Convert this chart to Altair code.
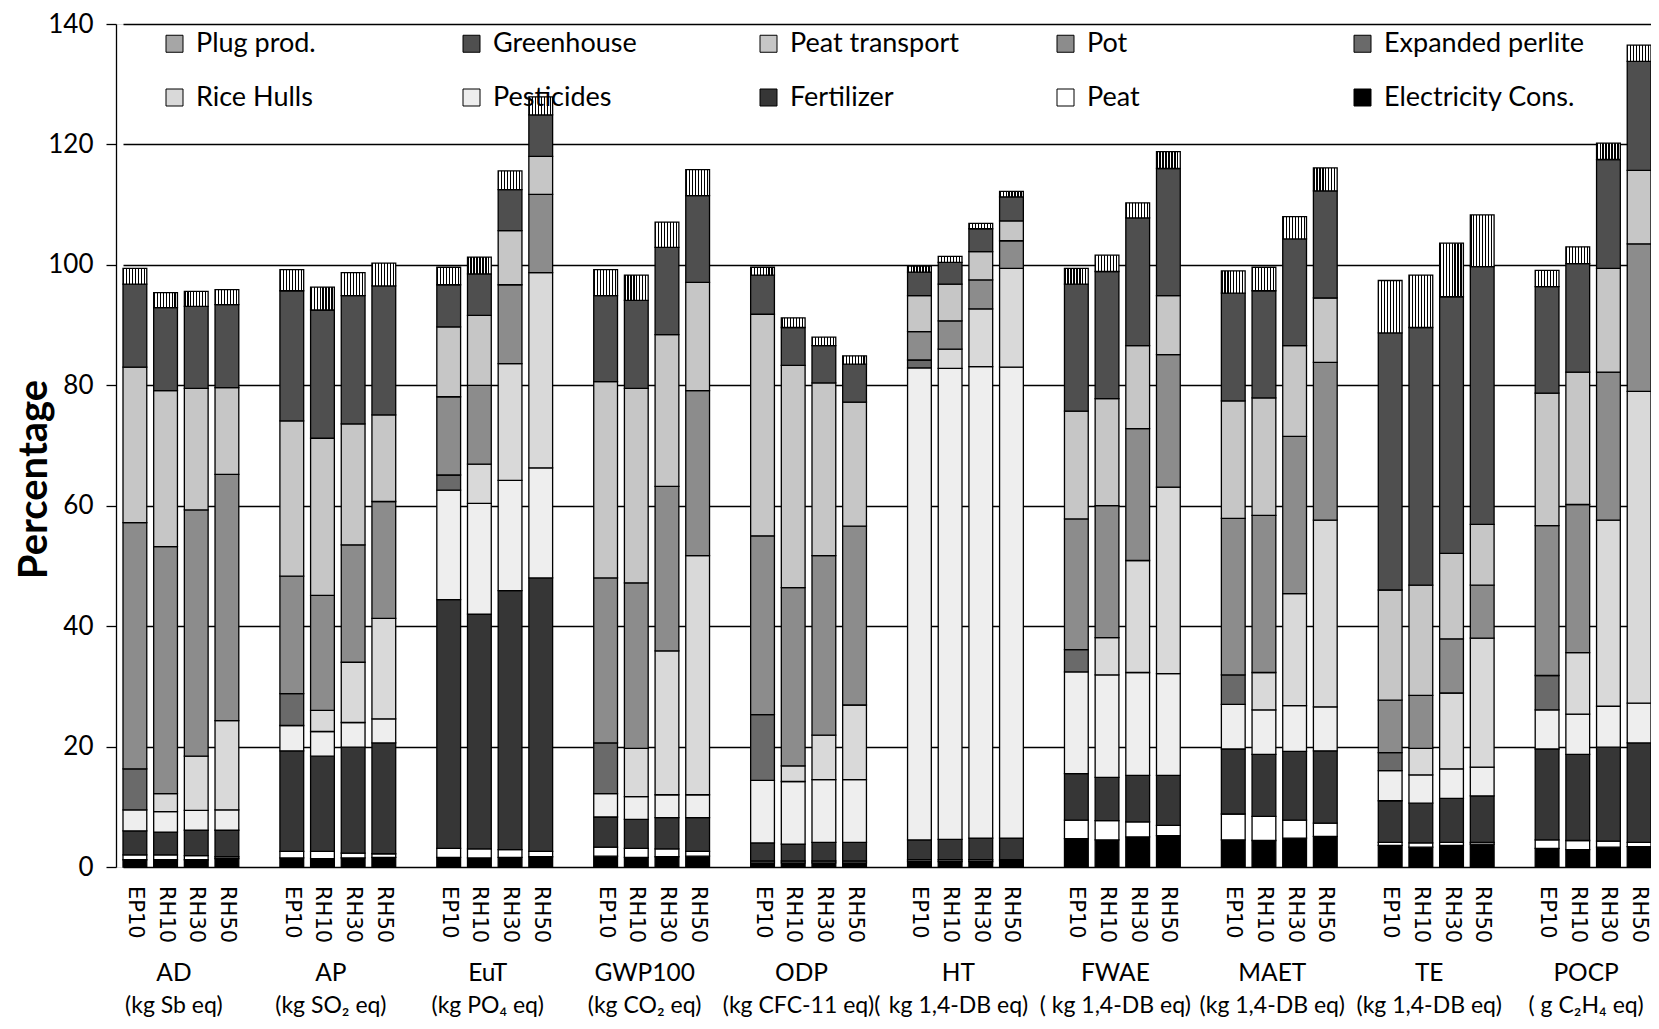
import altair as alt
import pandas as pd

groups = ["AD", "AP", "EuT", "GWP100", "ODP", "HT", "FWAE", "MAET", "TE", "POCP"]
units = ["(kg Sb eq)", "(kg SO\u2082 eq)", "(kg PO\u2084 eq)", "(kg CO\u2082 eq)", "(kg CFC-11 eq)(",
         "kg 1,4-DB eq)", "( kg 1,4-DB eq)", "(kg 1,4-DB eq)", "(kg 1,4-DB eq)", "(  g C\u2082H\u2084 eq)"]
bars = ["EP10", "RH10", "RH30", "RH50"]

# values per component, group-major (AD EP10, AD RH10, AD RH30, AD RH50, AP EP10, ...)
electricity = [1.2, 1.2, 1.2, 1.4, 1.5, 1.4, 1.5, 1.6, 1.6, 1.5, 1.6, 1.7, 1.8, 1.6, 1.7, 1.8,
               0.7, 0.7, 0.7, 0.7, 0.9, 0.9, 0.9, 1.0, 4.7, 4.5, 5.0, 5.2, 4.5, 4.4, 4.8, 5.1,
               3.6, 3.3, 3.6, 3.8, 3.1, 2.9, 3.3, 3.4]
peat = [0.8, 0.8, 0.7, 0.3, 1.1, 1.2, 0.8, 0.6, 1.5, 1.5, 1.3, 0.9, 1.5, 1.5, 1.3, 0.8,
        0.3, 0.3, 0.3, 0.3, 0.3, 0.3, 0.3, 0.2, 3.1, 3.2, 2.5, 1.7, 4.3, 4.0, 3.0, 2.2,
        0.5, 0.7, 0.5, 0.3, 1.4, 1.5, 1.0, 0.7]
fertilizer = [4.0, 3.8, 4.2, 4.4, 16.7, 15.8, 17.6, 18.4, 41.3, 39.0, 43.0, 45.4, 5.0, 4.8, 5.2, 5.6,
              3.0, 2.8, 3.1, 3.1, 3.3, 3.4, 3.6, 3.6, 7.7, 7.2, 7.7, 8.3, 10.8, 10.3, 11.4, 12.0,
              6.9, 6.6, 7.3, 7.7, 15.1, 14.3, 15.6, 16.5]
pesticides = [3.5, 3.4, 3.3, 3.4, 4.2, 4.1, 4.1, 4.0, 18.2, 18.4, 18.3, 18.3, 3.9, 3.8, 3.8, 3.8,
              10.4, 10.4, 10.4, 10.4, 78.4, 78.2, 78.3, 78.2, 16.9, 17.0, 17.1, 16.9, 7.4, 7.4, 7.6, 7.3,
              5.0, 4.7, 4.9, 4.8, 6.5, 6.7, 6.8, 6.6]
rice_hulls = [0, 3.0, 9.0, 14.8, 0, 3.5, 10.0, 16.7, 0, 6.5, 19.4, 32.4, 0, 8.0, 23.9, 39.7,
              0, 2.6, 7.4, 12.4, 0, 3.2, 9.6, 16.4, 0, 6.2, 18.6, 31.0, 0, 6.2, 18.6, 31.0,
              0, 4.4, 12.6, 21.4, 0, 10.2, 30.9, 51.8]
perlite = [6.8, 0, 0, 0, 5.3, 0, 0, 0, 2.5, 0, 0, 0, 8.4, 0, 0, 0,
           10.9, 0, 0, 0, 1.3, 0, 0, 0, 3.7, 0, 0, 0, 4.9, 0, 0, 0,
           3.0, 0, 0, 0, 5.7, 0, 0, 0]
pot = [40.9, 41.0, 40.9, 40.9, 19.5, 19.1, 19.5, 19.4, 13.0, 13.1, 13.1, 13.0, 27.4, 27.5, 27.3, 27.4,
       29.7, 29.6, 29.8, 29.7, 4.7, 4.7, 4.8, 4.6, 21.7, 21.9, 21.9, 22.0, 26.0, 26.1, 26.1, 26.2,
       8.7, 8.8, 9.0, 8.8, 24.9, 24.6, 24.6, 24.5]
peat_transport = [25.8, 25.9, 20.2, 14.4, 25.8, 26.1, 20.1, 14.4, 11.6, 11.6, 9.0, 6.3, 32.6, 32.3, 25.2, 18.0,
                  36.8, 36.9, 28.7, 20.6, 6.0, 6.1, 4.7, 3.3, 17.9, 17.8, 13.8, 9.8, 19.5, 19.5, 15.1, 10.7,
                  18.3, 18.3, 14.2, 10.1, 22.0, 22.0, 17.2, 12.2]
greenhouse = [13.8, 13.8, 13.6, 13.8, 21.6, 21.3, 21.3, 21.4, 7.0, 6.9, 6.8, 6.9, 14.3, 14.6, 14.5, 14.4,
              6.5, 6.3, 6.2, 6.3, 3.9, 3.6, 3.8, 4.0, 21.1, 21.1, 21.2, 21.1, 17.9, 17.8, 17.7, 17.8,
              42.7, 42.8, 42.6, 42.8, 17.7, 18.0, 18.1, 18.1]
plug = [2.6, 2.5, 2.5, 2.5, 3.5, 3.8, 3.8, 3.8, 2.9, 2.8, 3.1, 3.0, 4.3, 4.2, 4.2, 4.3,
        1.3, 1.6, 1.4, 1.4, 1.0, 1.0, 0.9, 0.9, 2.6, 2.7, 2.5, 2.8, 3.7, 3.9, 3.7, 3.8,
        8.7, 8.7, 8.9, 8.6, 2.7, 2.8, 2.7, 2.7]

stack_components = ["Electricity Cons.", "Peat", "Fertilizer", "Pesticides", "Rice Hulls",
                    "Expanded perlite", "Pot", "Peat transport", "Greenhouse", "Plug prod."]
stack_values = [electricity, peat, fertilizer, pesticides, rice_hulls, perlite, pot,
                peat_transport, greenhouse, plug]
legend_order = ["Plug prod.", "Greenhouse", "Peat transport", "Pot", "Expanded perlite",
                "Rice Hulls", "Pesticides", "Fertilizer", "Peat", "Electricity Cons."]
legend_fills = ["#a6a6a6", "#4f4f4f", "#c6c6c6", "#8c8c8c", "#6a6a6a",
                "#d9d9d9", "#eeeeee", "#363636", "#ffffff", "#000000"]

rows = []
for gi, g in enumerate(groups):
    for bi, b in enumerate(bars):
        idx = gi * 4 + bi
        for ci, (comp, arr) in enumerate(zip(stack_components, stack_values)):
            if arr[idx] > 0:
                rows.append({"group": g, "bar": b, "comp": comp, "value": arr[idx], "ord": ci})
df = pd.DataFrame(rows)

bar_labels = pd.DataFrame([{"group": g, "bar": b} for g in groups for b in bars])
group_labels = pd.DataFrame({"group": groups, "unit": units})

W, H = 1535, 843
FONT = "Lato"

# vertical stripes for "Plug prod."
n = 8
stops = []
for k in range(n):
    a, c = k / n, (k + 1) / n
    b = a + 0.4 / n
    stops += [{"offset": a, "color": "black"}, {"offset": b, "color": "black"},
              {"offset": b, "color": "white"}, {"offset": c, "color": "white"}]
plug_grad = {"gradient": "linear", "x1": 0, "y1": 0, "x2": 1, "y2": 0, "stops": stops}

xscale = alt.Scale(range=[7, 1535], paddingInner=0.262, paddingOuter=0)
xoff_scale = alt.Scale(paddingInner=0.225, paddingOuter=0)
X = alt.X("group:N", sort=groups, scale=xscale, axis=None)
XO = alt.XOffset("bar:N", sort=bars, scale=xoff_scale)

bars_chart = alt.Chart(df).mark_bar(stroke="black", strokeWidth=1.3).encode(
    x=X,
    xOffset=XO,
    y=alt.Y("value:Q", stack="zero",
            scale=alt.Scale(domain=[0, 140], nice=False),
            axis=alt.Axis(values=list(range(0, 141, 20)), grid=True, gridColor="black",
                          gridWidth=1.3, domainColor="black", domainWidth=1.3,
                          tickColor="black", tickSize=10, tickWidth=1.3,
                          labelFont=FONT, labelFontSize=26, labelColor="black", labelPadding=13,
                          title="Percentage", titleFont=FONT, titleFontSize=40,
                          titleFontWeight="bold", titleColor="black",
                          titleX=-82, titleY=455, titleBaseline="middle")),
    fill=alt.condition(
        alt.datum.comp == "Plug prod.",
        alt.value(plug_grad),
        alt.Fill("comp:N", scale=alt.Scale(domain=legend_order, range=legend_fills),
                 legend=alt.Legend(orient="none", legendX=45, legendY=6, direction="horizontal",
                                   columns=5, gridAlign="all", columnPadding=61, rowPadding=26,
                                   symbolType="square", symbolSize=289, symbolStrokeColor="black",
                                   symbolStrokeWidth=1, labelFont=FONT, labelFontSize=27,
                                   labelColor="black", labelLimit=400, labelOffset=8,
                                   title=None, padding=0))),
    order=alt.Order("ord:Q", sort="ascending"),
)

bar_text = alt.Chart(bar_labels).mark_text(
    angle=90, align="left", baseline="middle", font="DejaVu Sans", fontSize=21, color="black"
).encode(x=X, xOffset=XO, y=alt.value(H + 19), text="bar:N")

group_text = alt.Chart(group_labels).mark_text(
    font=FONT, fontSize=24.5, color="black", baseline="middle", dx=-7
).encode(x=X, y=alt.value(H + 107), text="group:N")

unit_text = alt.Chart(group_labels).mark_text(
    font=FONT, fontSize=23, color="black", baseline="middle", dx=-7
).encode(x=X, y=alt.value(H + 139), text="unit:N")

chart = alt.layer(bars_chart, bar_text, group_text, unit_text).properties(
    width=W, height=H,
    autosize=alt.AutoSizeParams(type="none"),
    padding={"left": 108, "top": 16, "right": 0, "bottom": 154},
).configure_view(stroke=None).configure(background="white")

chart.save("out.html", embed_options={"renderer": "svg", "actions": False})
